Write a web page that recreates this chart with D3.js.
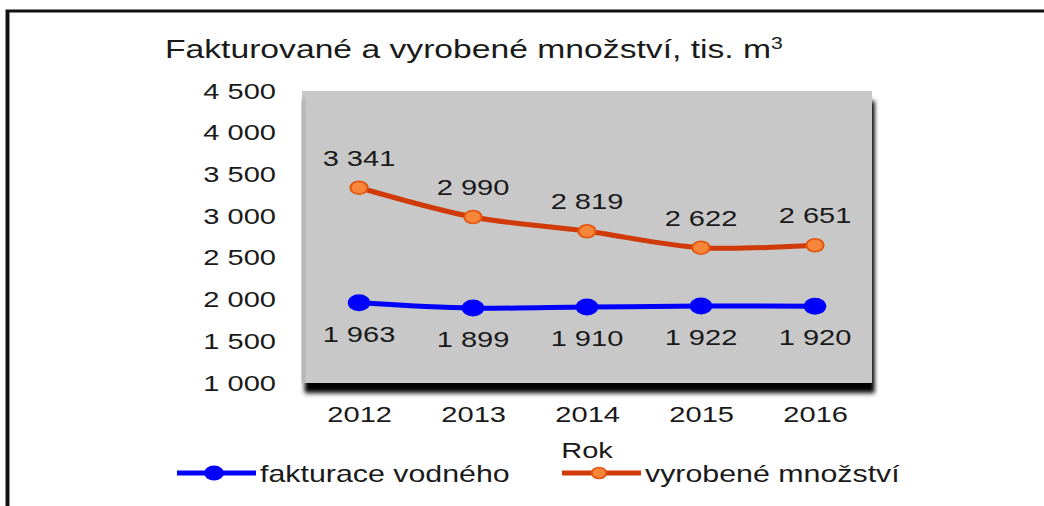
<!DOCTYPE html>
<head>
<meta charset="utf-8">
<script src="https://d3js.org/d3.v7.min.js"></script>
<style>
  body { margin: 0; background: #fff; }
  svg { display: block; }
  text { font-family: "Liberation Sans", Arial, sans-serif; fill: #1a1a1a; }
</style>
</head>
<body>
<svg id="chart"></svg>
<script>
  // data
  const years = ["2012", "2013", "2014", "2015", "2016"];
  const fakturace = [1963, 1899, 1910, 1922, 1920];
  const vyrobene = [3341, 2990, 2819, 2622, 2651];
  const yTicks = [1000, 1500, 2000, 2500, 3000, 3500, 4000, 4500];

  // the original picture is stretched sideways, so draw narrow and stretch with the viewBox
  const stretch = 1.32,
    width = 1044, height = 506,
    vw = width / stretch;

  const svg = d3.select("#chart")
    .attr("width", width)
    .attr("height", height)
    .attr("viewBox", `0 0 ${vw} ${height}`)
    .attr("preserveAspectRatio", "none");

  const plot = { left: 302 / stretch, right: 872 / stretch, top: 91, bottom: 383 };

  const x = d3.scalePoint().domain(years).range([plot.left, plot.right]).padding(0.5);
  const y = d3.scaleLinear().domain([1000, 4500]).range([plot.bottom, plot.top]);

  const cz = d3.formatLocale({ decimal: ",", thousands: "\u00a0", grouping: [3], currency: ["", ""] });
  const fmt = cz.format(",");

  // frame of the cut-out picture (top and left only)
  svg.append("path")
    .attr("d", `M${7.5 / stretch},${height} V11 H${vw}`)
    .attr("fill", "none")
    .attr("stroke", "#111")
    .attr("stroke-width", 3);

  // drop shadow under the plot area
  const defs = svg.append("defs");
  defs.append("filter").attr("id", "blur")
    .attr("x", "-10%").attr("y", "-10%").attr("width", "120%").attr("height", "130%")
    .append("feGaussianBlur").attr("stdDeviation", "1.6 2.5");

  svg.append("rect")
    .attr("x", plot.left + 2)
    .attr("y", plot.top + 10)
    .attr("width", plot.right - plot.left)
    .attr("height", plot.bottom - plot.top)
    .attr("fill", "#000")
    .attr("filter", "url(#blur)");

  svg.append("rect")
    .attr("x", plot.left)
    .attr("y", plot.top)
    .attr("width", plot.right - plot.left)
    .attr("height", plot.bottom - plot.top)
    .attr("fill", "#c8c8c8");

  // darker strip on the left edge of the plot
  svg.append("rect")
    .attr("x", plot.left)
    .attr("y", plot.top + 8)
    .attr("width", 2.2)
    .attr("height", plot.bottom - plot.top - 8)
    .attr("fill", "#a4a4a4")
    .attr("filter", "url(#blur)");

  // title
  const title = svg.append("text")
    .attr("x", 165 / stretch)
    .attr("y", 58)
    .style("font-size", "25.5px")
    .text("Fakturované a vyrobené množství, tis. m");
  title.append("tspan")
    .attr("dy", -9)
    .style("font-size", "16px")
    .text("3");

  // y axis labels
  const yAxis = svg.append("g")
    .attr("transform", `translate(${plot.left},0)`)
    .call(d3.axisLeft(y).tickValues(yTicks).tickFormat(fmt).tickSize(0).tickPadding(26 / stretch));
  yAxis.select(".domain").remove();
  yAxis.selectAll("text")
    .style("font-size", "22px")
    .attr("fill", "#1a1a1a");

  // x axis labels
  const xAxis = svg.append("g")
    .attr("transform", `translate(0,${plot.bottom})`)
    .call(d3.axisBottom(x).tickSize(0).tickPadding(23));
  xAxis.select(".domain").remove();
  xAxis.selectAll("text")
    .style("font-size", "22px")
    .attr("fill", "#1a1a1a");

  svg.append("text")
    .attr("x", (plot.left + plot.right) / 2)
    .attr("y", 458)
    .attr("text-anchor", "middle")
    .style("font-size", "22px")
    .text("Rok");

  const series = [
    { name: "fakturace vodného", values: fakturace, line: "#0000ff", fill: "#0000ff", stroke: "#0000ff", r: 8.5, sw: 0, label: 39 },
    { name: "vyrobené množství", values: vyrobene, line: "#cf3a08", fill: "#f7853a", stroke: "#e2560f", r: 6.5, sw: 1.6, label: -22 }
  ];

  const line = d3.line()
    .x((d, i) => x(years[i]))
    .y(d => y(d))
    .curve(d3.curveCatmullRom);

  series.forEach(s => {
    const g = svg.append("g");
    g.append("path")
      .attr("d", line(s.values))
      .attr("fill", "none")
      .attr("stroke", s.line)
      .attr("stroke-width", 5);
    g.selectAll("circle")
      .data(s.values)
      .join("circle")
      .attr("cx", (d, i) => x(years[i]))
      .attr("cy", d => y(d))
      .attr("r", s.r)
      .attr("fill", s.fill)
      .attr("stroke", s.stroke)
      .attr("stroke-width", s.sw);
    g.selectAll("text")
      .data(s.values)
      .join("text")
      .attr("x", (d, i) => x(years[i]))
      .attr("y", d => y(d) + s.label)
      .attr("text-anchor", "middle")
      .style("font-size", "22px")
      .text(d => fmt(d));
  });

  // legend
  const legendX = [177 / stretch, 562 / stretch];
  const legend = svg.append("g")
    .selectAll("g")
    .data(series)
    .join("g")
    .attr("transform", (d, i) => `translate(${legendX[i]},473)`);
  legend.append("line")
    .attr("x1", 0).attr("x2", 79 / stretch)
    .attr("stroke", d => d.line)
    .attr("stroke-width", 5);
  legend.append("circle")
    .attr("cx", 37 / stretch)
    .attr("r", d => d.r - 1)
    .attr("fill", d => d.fill)
    .attr("stroke", d => d.stroke)
    .attr("stroke-width", d => d.sw);
  legend.append("text")
    .attr("x", 83 / stretch)
    .attr("y", 8.5)
    .style("font-size", "23px")
    .text(d => d.name);
</script>
</body>
